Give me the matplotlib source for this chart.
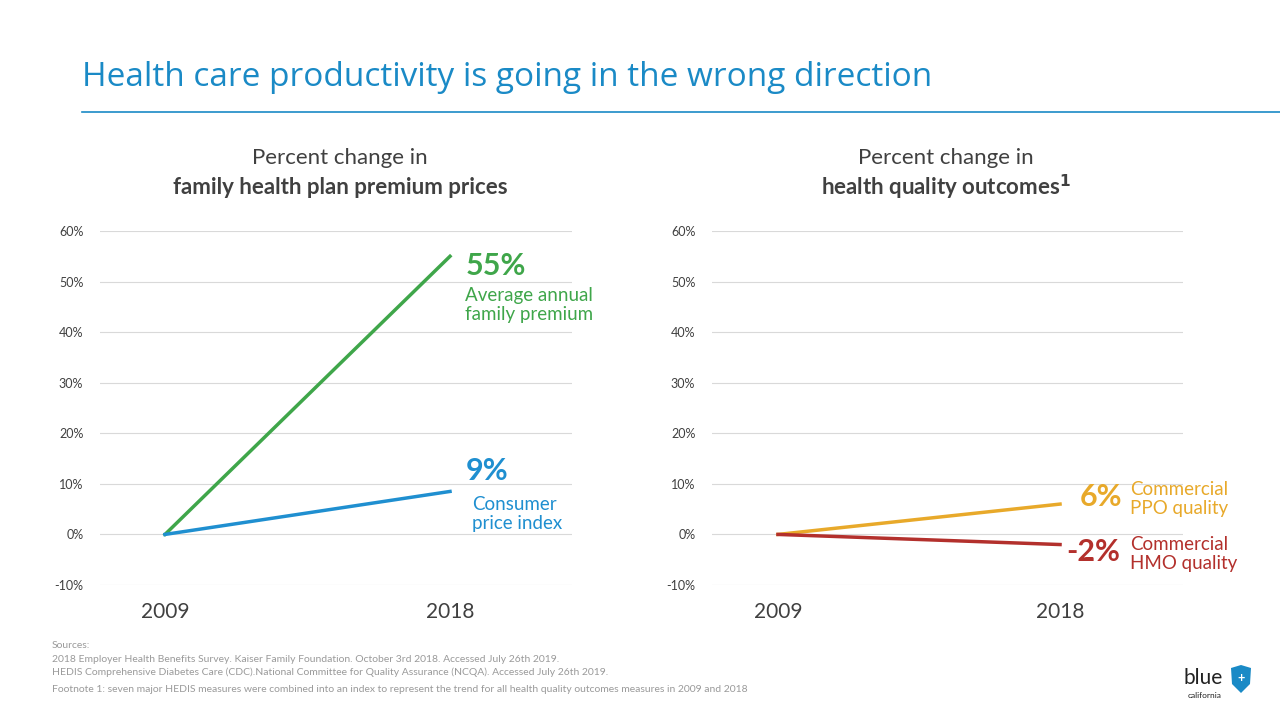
import matplotlib
matplotlib.use('Agg')
import matplotlib.pyplot as plt
from matplotlib.patches import Polygon

years = ['2009', '2018']
premium = [0, 55]
cpi = [0, 8.5]
ppo = [0, 6]
hmo = [0, -2]
yticks = [-10, 0, 10, 20, 30, 40, 50, 60]

green = '#3fa64a'
blue = '#1f8fd0'
orange = '#e8a92a'
red = '#b3302c'
title_blue = '#1a8ac6'
grey = '#404040'

plt.rcParams['font.family'] = ['Lato', 'DejaVu Sans']
fig = plt.figure(figsize=(12.8, 7.2), dpi=100)

def fx(px): return px / 1280
def fy(py): return 1 - py / 720

def setup(ax, xlim):
    ax.set_xlim(*xlim)
    ax.set_ylim(-10, 60)
    ax.set_yticks(yticks)
    ax.set_yticklabels([f'{v}%' for v in yticks], fontsize=9, color='#404040')
    ax.set_xticks([0, 1])
    ax.set_xticklabels(years, fontsize=15, color=grey)
    ax.tick_params(length=0)
    ax.tick_params(axis='x', pad=12)
    ax.tick_params(axis='y', pad=12)
    ax.grid(axis='y', color='#d9d9d9', linewidth=0.8)
    for s in ax.spines.values():
        s.set_visible(False)

ax1 = fig.add_axes([fx(100), fy(585), fx(472), fy(231) - fy(585)])
setup(ax1, (-0.228, 1.428))
ax1.plot([0, 1], premium, color=green, lw=2.5)
ax1.plot([0, 1], cpi, color=blue, lw=2.5)

ax2 = fig.add_axes([fx(712), fy(585), fx(471), fy(231) - fy(585)])
setup(ax2, (-0.234, 1.436))
ax2.plot([0, 1], ppo, color=orange, lw=2.5)
ax2.plot([0, 1], hmo, color=red, lw=2.5)

# title
fig.text(fx(82), fy(78), 'Health care productivity is going in the wrong direction',
         fontsize=24, color=title_blue, va='center', family=['Open Sans', 'DejaVu Sans'])
fig.add_artist(plt.Line2D([fx(82), 1], [fy(112), fy(112)], color=title_blue, lw=1.2))

fig.text(fx(340), fy(158), 'Percent change in', fontsize=16, color=grey, ha='center', va='center')
fig.text(fx(340), fy(187), 'family health plan premium prices', fontsize=16, color=grey,
         ha='center', va='center', weight='bold')
fig.text(fx(946), fy(158), 'Percent change in', fontsize=16, color=grey, ha='center', va='center')
fig.text(fx(946), fy(187), 'health quality outcomes$^\\mathbf{1}$', fontsize=16, color=grey,
         ha='center', va='center', weight='bold')

# annotations
fig.text(fx(466), fy(266), '55%', fontsize=22, color=green, weight='bold', va='center')
fig.text(fx(465), fy(305), 'Average annual\nfamily premium', fontsize=13.5, color=green,
         va='center', linespacing=1.2)
fig.text(fx(466), fy(471), '9%', fontsize=22, color=blue, weight='bold', va='center')
fig.text(fx(472), fy(514), 'Consumer\nprice index', fontsize=13.5, color=blue,
         va='center', linespacing=1.2)
fig.text(fx(1122), fy(497), '6%', fontsize=22, color=orange, weight='bold', va='center', ha='right')
fig.text(fx(1130), fy(499), 'Commercial\nPPO quality', fontsize=13.5, color=orange,
         va='center', linespacing=1.2)
fig.text(fx(1120), fy(552), '-2%', fontsize=22, color=red, weight='bold', va='center', ha='right')
fig.text(fx(1130), fy(554), 'Commercial\nHMO quality', fontsize=13.5, color=red,
         va='center', linespacing=1.2)

# sources
src = '#9a9a9a'
fig.text(fx(52), fy(646), 'Sources:', fontsize=7.5, color=src, va='center')
fig.text(fx(52), fy(659), '2018 Employer Health Benefits Survey. Kaiser Family Foundation. October 3rd 2018. Accessed July 26th 2019.',
         fontsize=7.5, color=src, va='center')
fig.text(fx(52), fy(672), 'HEDIS Comprehensive Diabetes Care (CDC).National Committee for Quality Assurance (NCQA). Accessed July 26th 2019.',
         fontsize=7.5, color=src, va='center')
fig.text(fx(52), fy(690), 'Footnote 1: seven major HEDIS measures were combined into an index to represent the trend for all health quality outcomes measures in 2009 and 2018',
         fontsize=7.5, color=src, va='center')

# logo
fig.text(fx(1203), fy(678), 'blue', fontsize=15, color='#222222', ha='center', va='center')
fig.text(fx(1205), fy(696), 'california', fontsize=6, color='#222222', ha='center', va='center')
shield = [(1231, 668), (1241, 665), (1251, 668), (1250, 684), (1241, 693), (1232, 684)]
fig.add_artist(Polygon([(fx(x), fy(y)) for x, y in shield], closed=True,
                       transform=fig.transFigure, facecolor=title_blue, edgecolor='none'))
fig.text(fx(1241), fy(678), '+', fontsize=9, color='white', ha='center', va='center', weight='bold')

fig.savefig('out.png', dpi=100)
